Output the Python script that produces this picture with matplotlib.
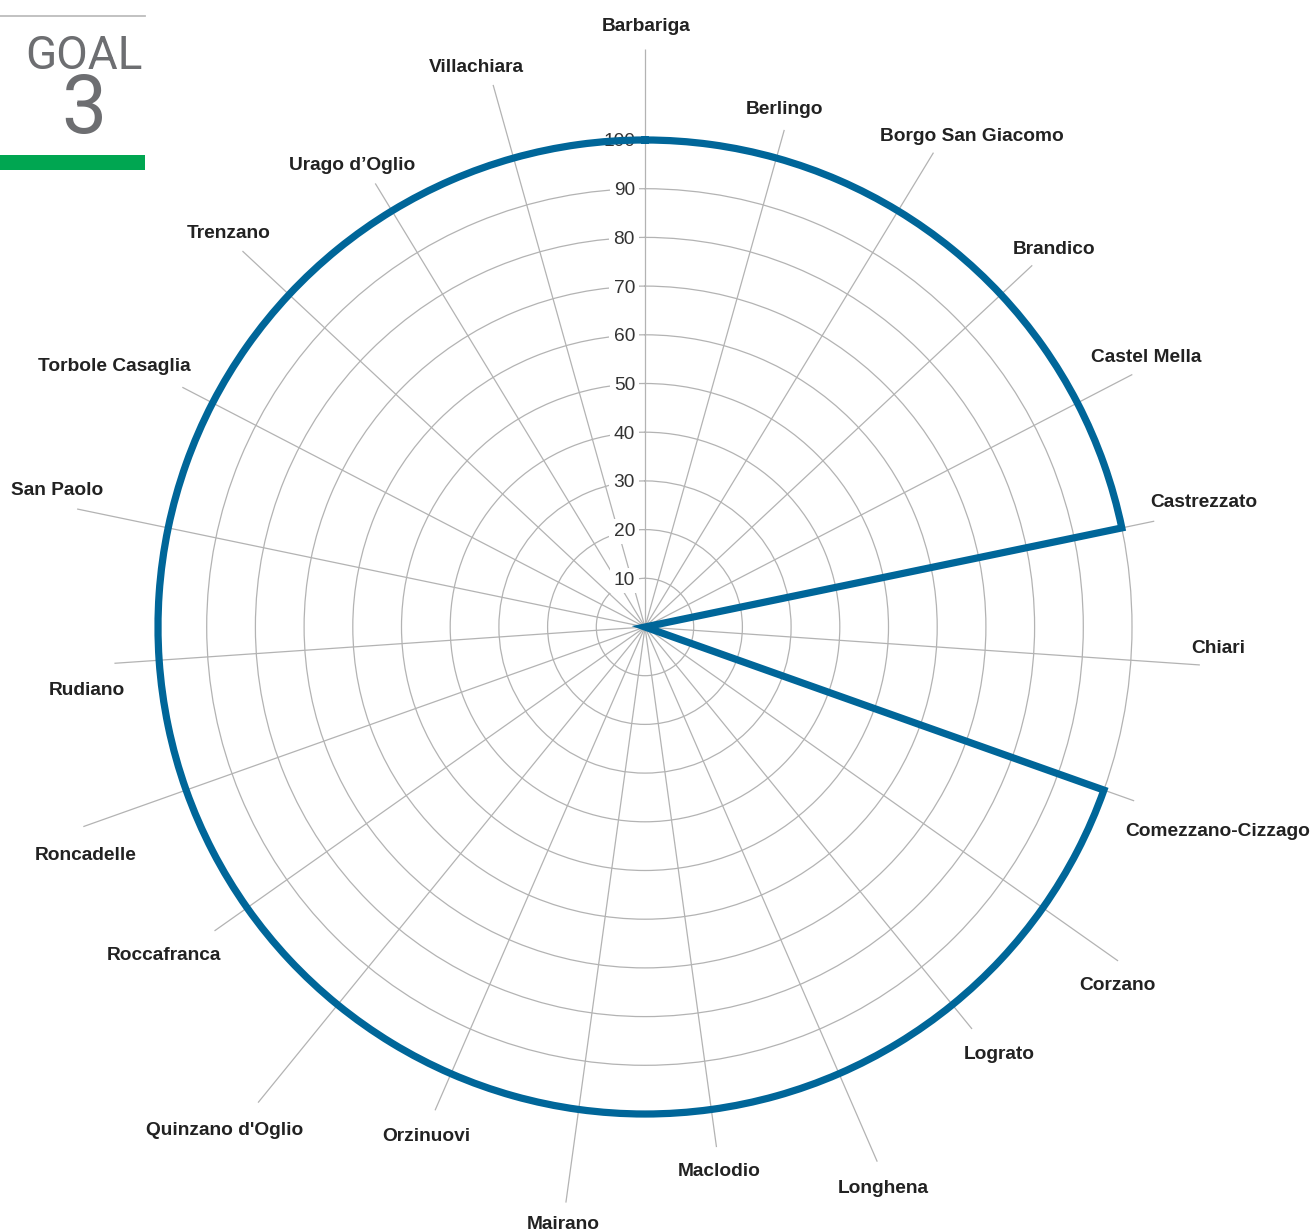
import numpy as np
import matplotlib
matplotlib.use("Agg")
import matplotlib.pyplot as plt

# Chart data
towns = ["Barbariga", "Berlingo", "Borgo San Giacomo", "Brandico", "Castel Mella",
         "Castrezzato", "Chiari", "Comezzano-Cizzago", "Corzano", "Lograto",
         "Longhena", "Maclodio", "Mairano", "Orzinuovi", "Quinzano d'Oglio",
         "Roccafranca", "Roncadelle", "Rudiano", "San Paolo", "Torbole Casaglia",
         "Trenzano", "Urago d\u2019Oglio", "Villachiara"]
values = [100, 100, 100, 100, 100, 100, 0, 100, 100, 100, 100, 100,
          100, 100, 100, 100, 100, 100, 100, 100, 100, 100, 100]
rticks = [10, 20, 30, 40, 50, 60, 70, 80, 90, 100]

# Layout: spoke length (data units) and label offset from the spoke end (pixels)
spoke_len = [118.7, 106.0, 114.0, 108.8, 112.7, 106.8, 114.2, 106.6, 118.9, 106.4,
             119.7, 107.8, 119.3, 108.2, 125.9, 108.2, 122.4, 109.2, 119.1, 107.0,
             113.1, 106.6, 115.6]
label_dx = [1, 0, 38, 22, 14, 50, 18, 84, -1, 27, 6, 3, -3, -9, -33, -51, 2, -28,
            -20, -68, -14, -23, -17]
label_dy = [22, 20, 16, 16, 17, 19, 16, -31, -25, -26, -27, -24, -22, -26, -28,
            -25, -29, -27, 18, 21, 18, 18, 17]

W, H = 1313, 1232
cx, cy = 645, 627        # centre of the radar in pixels (from top)
R100 = 487.0             # pixels for value 100
half = 620.0             # half size of the polar axes in pixels

fig = plt.figure(figsize=(W / 100, H / 100), dpi=100)
fig.patch.set_facecolor("white")
ax = fig.add_axes([(cx - half) / W, (H - cy - half) / H, 2 * half / W, 2 * half / H],
                  projection="polar")
ax.set_facecolor("none")
ax.set_theta_offset(np.pi / 2)
ax.set_theta_direction(-1)
ax.set_ylim(0, 100 * half / R100)
ax.spines["polar"].set_visible(False)
ax.set_xticks([])
ax.set_yticks(rticks)
ax.set_yticklabels([])
ax.tick_params(axis="y", length=0)
ax.yaxis.grid(True, color="#b3b3b3", linewidth=0.9)
ax.xaxis.grid(False)

n = len(towns)
theta = np.arange(n) * 2 * np.pi / n

# spokes
for i in range(n):
    ax.plot([theta[i], theta[i]], [0, spoke_len[i]], color="#b3b3b3",
            linewidth=0.9, zorder=1, solid_capstyle="butt")

# radial tick labels with white boxes
for v in rticks:
    ax.annotate(str(v), xy=(0, v), xytext=(-10, -2), textcoords="offset pixels",
                ha="right", va="center", fontsize=13.8, color="#333333",
                family="Liberation Sans", zorder=3,
                bbox=dict(boxstyle="square,pad=0.22", fc="white", ec="none"))

# data line: a zero value sits on the centre, reached along the neighbour spokes
line_t, line_r = [], []
for i in range(n + 1):
    k = i % n
    if values[k] == 0:
        line_t += [theta[i - 1], theta[(i + 1) % n]]
        line_r += [0, 0]
    else:
        line_t.append(theta[k] + (2 * np.pi if i == n else 0))
        line_r.append(values[k])
line, = ax.plot(line_t, line_r, color="#006699", linewidth=5.2, zorder=4,
                solid_joinstyle="miter")
line.get_path()._interpolation_steps = 180   # arcs along constant radius

# category labels
for i in range(n):
    ax.annotate(towns[i], xy=(theta[i], spoke_len[i]),
                xytext=(label_dx[i], label_dy[i]), textcoords="offset pixels",
                ha="center", va="center", fontsize=13.8, fontweight="bold",
                color="#222222", family="Liberation Sans", annotation_clip=False)

# GOAL 3 badge
fig.add_artist(plt.Line2D([0, 145 / W], [1 - 16 / H, 1 - 16 / H], color="#bdbdbd",
                          linewidth=1.3))
fig.add_artist(plt.Rectangle((0, 1 - 170 / H), 145 / W, 15 / H, color="#00A651",
                             linewidth=0))
fig.text(84 / W, 1 - 56 / H, "GOAL", ha="center", va="center", fontsize=33,
         color="#6d6e71", family="Roboto", fontweight="normal")
fig.text(84 / W, 1 - 111 / H, "3", ha="center", va="center", fontsize=58,
         color="#6d6e71", family="Roboto", fontweight="normal")

fig.savefig("out.png", dpi=100, facecolor="white")
